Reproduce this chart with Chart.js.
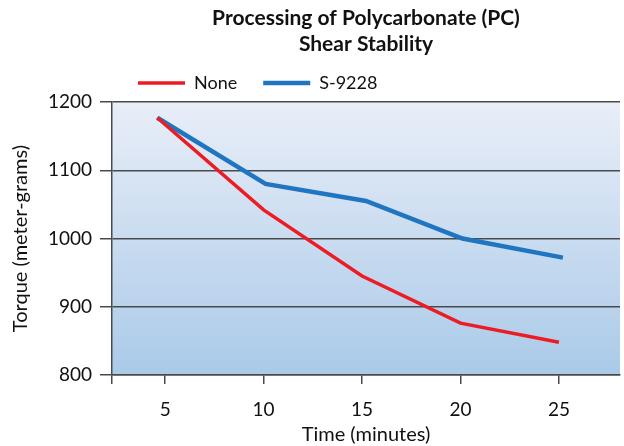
<!DOCTYPE html>
<html>
<head>
<meta charset="utf-8">
<script src="https://cdn.jsdelivr.net/npm/chart.js@4"></script>
<style>
  html, body { margin: 0; padding: 0; background: #fff; }
  #wrap { width: 624px; height: 446px; }
</style>
</head>
<body>
<div id="wrap"><canvas id="myChart" width="624" height="446"></canvas></div>
<script>
const titleLines = ['Processing of Polycarbonate (PC)', 'Shear Stability'];
const seriesNames = ['None', 'S-9228'];
const timeNone = [4.6, 10, 15, 20, 25];
const torqueNone = [1177, 1042, 945, 876, 848];
const timeS9228 = [4.6, 10.1, 15.2, 20.1, 25.2];
const torqueS9228 = [1177, 1080, 1055, 1000, 972];
const xTicks = [5, 10, 15, 20, 25];
const xMin = 2.3, xMax = 28.1;
const yMin = 800, yMax = 1200, yStep = 100;

const FONT = 'Lato, "Open Sans", sans-serif';
const dark = '#4a4a4a';

function pts(xs, ys) {
  return xs.map((x, i) => ({ x: x, y: ys[i] }));
}

// gradient fill behind the plot area
const plotBg = {
  id: 'plotBg',
  beforeDraw(chart) {
    const a = chart.chartArea;
    const c = chart.ctx;
    const g = c.createLinearGradient(0, a.top, 0, a.bottom);
    g.addColorStop(0, '#e9eef8');
    g.addColorStop(1, '#aacae8');
    c.save();
    c.fillStyle = g;
    c.fillRect(a.left, a.top, a.right - a.left, a.bottom - a.top);
    c.restore();
  }
};

const ctx = document.getElementById('myChart').getContext('2d');
const myChart = new Chart(ctx, {
  type: 'line',
  data: {
    datasets: [{
      label: seriesNames[0],
      data: pts(timeNone, torqueNone),
      borderColor: '#ed1c24',
      backgroundColor: '#ed1c24',
      borderWidth: 3.5,
    }, {
      label: seriesNames[1],
      data: pts(timeS9228, torqueS9228),
      borderColor: '#1f75c0',
      backgroundColor: '#1f75c0',
      borderWidth: 4.5,
    }],
  },
  options: {
    responsive: false,
    animation: false,
    layout: { padding: { left: 0, right: 4, top: 0, bottom: 0 } },
    elements: { point: { radius: 0 }, line: { tension: 0 } },
    plugins: {
      title: {
        display: true,
        text: titleLines,
        fullSize: false,
        color: '#111',
        font: { family: FONT, size: 21, weight: 'bold', lineHeight: 1.24 },
        padding: { top: 5, bottom: -9 },
      },
      legend: {
        position: 'top',
        align: 'start',
        fullSize: false,
        maxHeight: 57,
        labels: {
          usePointStyle: true,
          pointStyle: 'line',
          pointStyleWidth: 47,
          padding: 26,
          color: '#111',
          font: { family: FONT, size: 18 },
        },
      },
      tooltip: { enabled: false },
    },
    scales: {
      x: {
        type: 'linear',
        min: xMin,
        max: xMax,
        afterBuildTicks: (s) => { s.ticks = [xMin].concat(xTicks).map(v => ({ value: v })); },
        afterFit: (s) => { s.height = 71; },
        ticks: {
          color: '#111',
          font: { family: FONT, size: 19 },
          padding: 14,
          maxRotation: 0,
          autoSkip: false,
          callback: (v) => xTicks.includes(v) ? String(v) : '',
        },
        grid: { drawOnChartArea: false, drawTicks: true, tickLength: 9, color: dark, lineWidth: 1.5 },
        border: { display: true, color: dark, width: 1.5 },
        title: {
          display: true,
          text: 'Time (minutes)',
          color: '#111',
          font: { family: FONT, size: 20 },
          padding: { top: 0, bottom: -1 },
        },
      },
      y: {
        min: yMin,
        max: yMax,
        ticks: {
          stepSize: yStep,
          color: '#111',
          font: { family: FONT, size: 19 },
          padding: 8,
          callback: (v) => String(v),
        },
        afterFit: (s) => { s.width = 112; },
        grid: { color: dark, lineWidth: 1.5, drawTicks: true, tickLength: 12 },
        border: { display: true, color: dark, width: 1.5 },
        title: {
          display: true,
          text: 'Torque (meter-grams)',
          color: '#111',
          font: { family: FONT, size: 20 },
          padding: { top: 9, bottom: 0 },
        },
      },
    },
  },
  plugins: [plotBg],
});
</script>
</body>
</html>
